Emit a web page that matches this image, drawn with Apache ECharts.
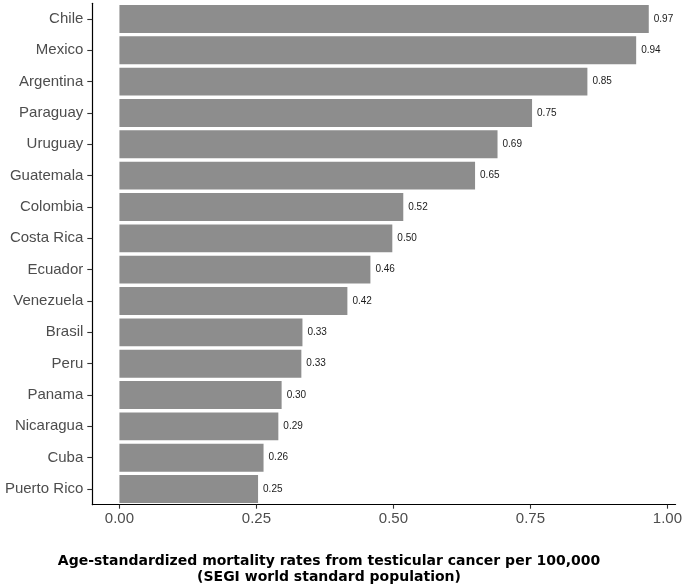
<!DOCTYPE html>
<html>
<head>
<meta charset="utf-8">
<script src="https://cdn.jsdelivr.net/npm/echarts@6/dist/echarts.min.js"></script>
<style>
html,body{margin:0;padding:0;background:#fff;}
#c{width:685px;height:587px;}
</style>
</head>
<body>
<div id="c"></div>
<script>
const countries = ["Chile","Mexico","Argentina","Paraguay","Uruguay","Guatemala","Colombia","Costa Rica","Ecuador","Venezuela","Brasil","Peru","Panama","Nicaragua","Cuba","Puerto Rico"];
const rates = [0.966,0.943,0.854,0.753,0.690,0.649,0.518,0.498,0.458,0.416,0.334,0.332,0.296,0.290,0.263,0.253];
const xTicks = [0, 0.25, 0.5, 0.75, 1.0];
const axisTitle = "Age-standardized mortality rates from testicular cancer per 100,000\n(SEGI world standard population)";

const chart = echarts.init(document.getElementById('c'), null, {renderer:'canvas'});
chart.setOption({
  animation: false,
  backgroundColor: '#fff',
  title: {
    text: axisTitle,
    left: 329,
    top: 553,
    padding: 0,
    textAlign: 'center',
    textStyle: {
      fontFamily: 'DejaVu Sans',
      fontWeight: 'bold',
      fontSize: 14,
      lineHeight: 16,
      color: '#000'
    }
  },
  grid: {left: 92.3, right: 7.3, top: 3.3, bottom: 82.3, containLabel: false},
  xAxis: {
    type: 'value',
    min: -0.0495,
    max: 1.0149,
    splitLine: {show: false},
    axisLine: {show: true, onZero: false, lineStyle: {color: '#000', width: 1.2}},
    axisTick: {show: true, length: 4, customValues: xTicks, lineStyle: {color: '#333', width: 1.1}},
    axisLabel: {
      customValues: xTicks,
      margin: 7,
      fontFamily: 'Liberation Sans',
      fontSize: 15,
      color: '#4d4d4d',
      formatter: v => v.toFixed(2)
    }
  },
  yAxis: {
    type: 'category',
    data: countries,
    inverse: true,
    axisLine: {show: true, onZero: false, lineStyle: {color: '#000', width: 1.2}},
    axisTick: {show: true, length: 5, alignWithLabel: true, lineStyle: {color: '#333', width: 1.1}},
    axisLabel: {
      margin: 9,
      fontFamily: 'Liberation Sans',
      fontSize: 15,
      color: '#4d4d4d'
    },
    splitLine: {show: false}
  },
  series: [{
    type: 'bar',
    data: rates,
    barWidth: '89%',
    itemStyle: {color: '#8d8d8d'},
    label: {
      show: true,
      position: 'right',
      distance: 5,
      fontFamily: 'Liberation Sans',
      fontSize: 10,
      color: '#1a1a1a',
      formatter: p => p.value.toFixed(2)
    }
  }]
});
</script>
</body>
</html>
